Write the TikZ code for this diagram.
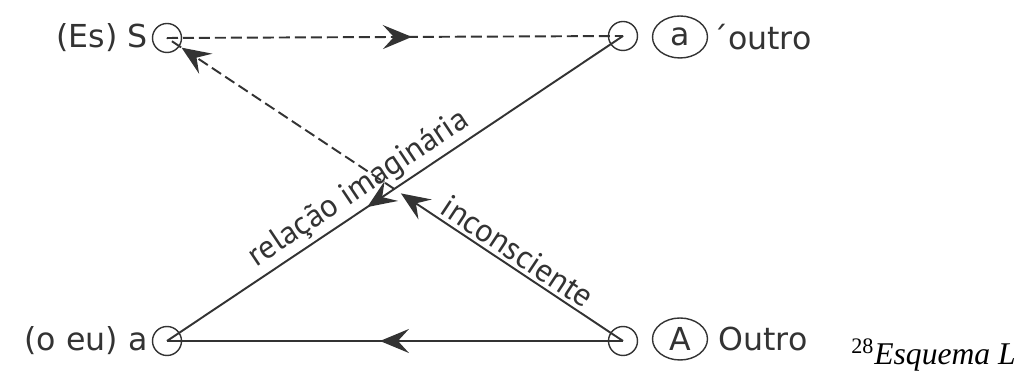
\documentclass[tikz,border=0pt]{standalone}
\usepackage{fontspec}
\usetikzlibrary{arrows.meta,decorations.markings,shapes.geometric}
\newfontfamily\lblfont{DejaVu Sans}
\newfontfamily\slopefont{PT Sans}
\newfontfamily\captfont{Liberation Serif}
\definecolor{ink}{HTML}{333333}
\tikzset{
	tip/.tip={Stealth[length=0.58cm, width=0.48cm, inset=0.22cm]},
	pt/.style={circle, draw=ink, line width=0.8pt, minimum size=0.58cm, inner sep=0},
	ring/.style={ellipse, draw=ink, line width=0.8pt, minimum width=1.1cm, minimum height=0.84cm, inner sep=0, text=ink, font=\lblfont\fontsize{18}{21}\selectfont},
	lbl/.style={inner sep=0, text=ink, font=\lblfont\fontsize{18}{21}\selectfont},
	slbl/.style={sloped, above, inner sep=2pt, text=ink, font=\slopefont\fontsize{18.5}{21}\selectfont},
	sline/.style={draw=ink, line width=1.1pt},
	dline/.style={sline, dash pattern=on 0.22cm off 0.1cm},
	midarr/.style={postaction={decorate}, decoration={markings, mark=at position #1 with {\arrow[ink]{tip}}}}
}
\begin{document}
\begin{tikzpicture}[x=0.02cm, y=0.02cm]
	\useasboundingbox (0, 0) rectangle (1015, 374);
	\node[pt] (S) at (167, 336) {};
	\node[pt] (ao) at (623, 338) {};
	\node[pt] (a) at (167, 33) {};
	\node[pt] (A) at (623, 33) {};
	\node[lbl, anchor=east] (Slbl) at (148, 336) {(Es) S};
	\node[lbl, anchor=east] (albl) at (148, 33) {(o eu) a};
	\node[ring] (aring) at (680, 337) {a};
	\node[lbl, anchor=west] (aolbl) at (712, 337) {´outro};
	\node[ring] (Aring) at (680, 35) {A};
	\node[lbl, anchor=west] (Albl) at (718, 35) {Outro};
	\node[anchor=base west, inner sep=0, font=\captfont\fontsize{18}{20}\selectfont] (capt) at (851, 9) {\textsuperscript{28}\textit{Esquema L}};
	\coordinate (cr) at (intersection of a.center--ao.center and A.center--S.center);
	\draw[dline, midarr=.537] (S.center) -- (ao.center);
	\draw[sline, midarr=.533] (A.center) -- (a.center);
	\draw[sline, midarr=.561] (ao.center) -- (a.center) node[slbl, pos=.555] {relação imaginária};
	\draw[sline, -tip, shorten >=0.16cm] (A.center) -- (cr) node[slbl, pos=.5] {inconsciente};
	\draw[dline, midarr=.936] (cr) -- (S.center);
\end{tikzpicture}
\end{document}
